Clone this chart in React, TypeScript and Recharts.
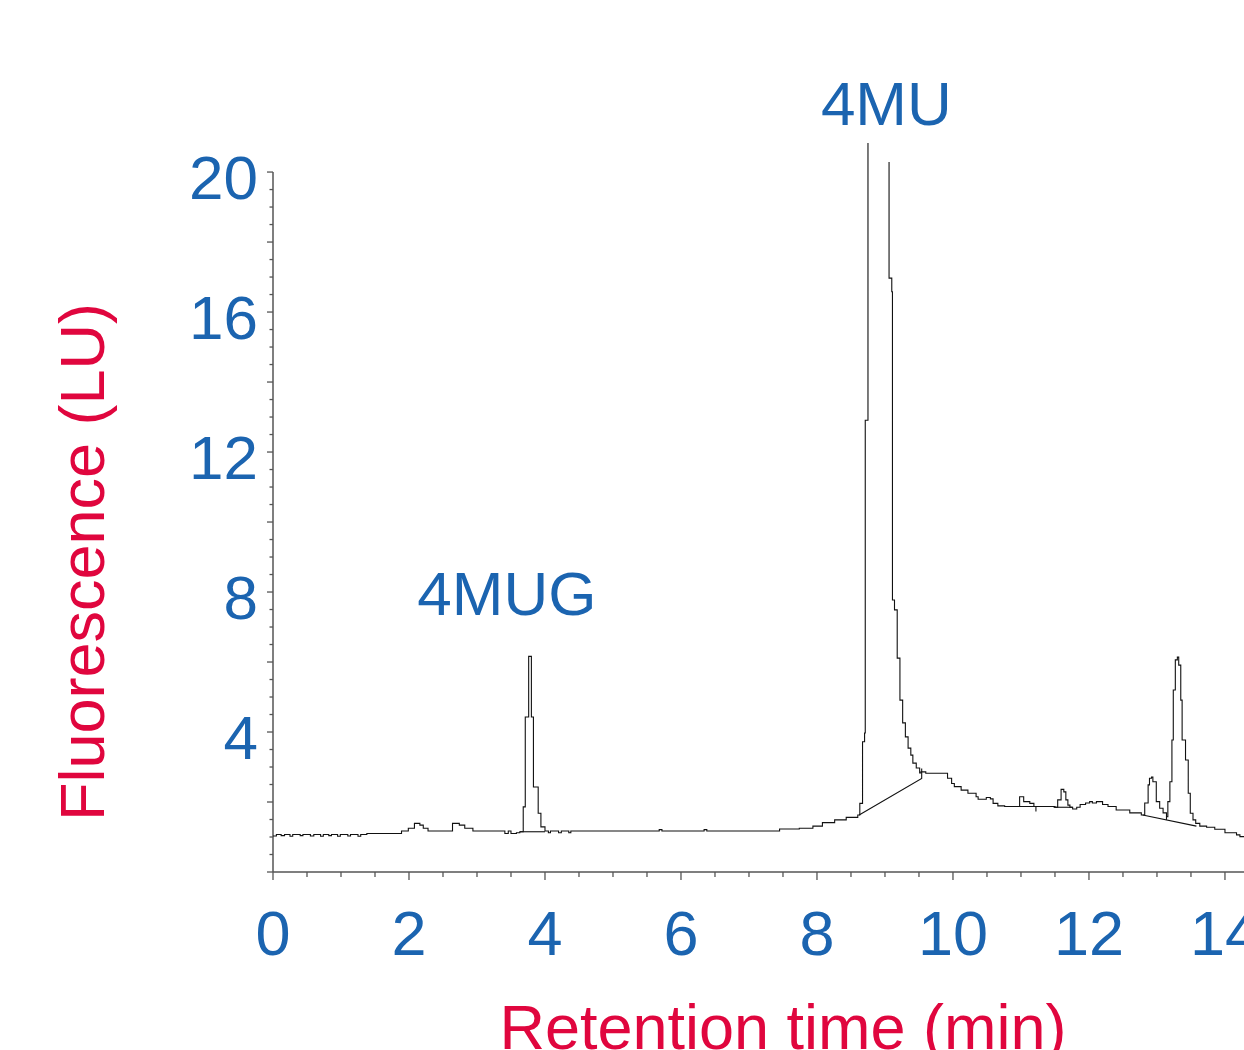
import { LineChart, Line, XAxis, YAxis, ReferenceLine, ReferenceDot } from 'recharts'

// chromatogram trace (time in min, signal in LU); null = off-scale gap
const traceTime = [
  0.0, 0.05, 0.12, 0.17, 0.25, 0.29, 0.4, 0.44, 0.55, 0.6, 0.7, 0.74, 0.82, 0.86, 0.95, 0.99,
  1.1, 1.14, 1.25, 1.29, 1.38, 1.89, 1.99, 2.08, 2.16, 2.21, 2.28, 2.64, 2.74, 2.82, 2.94,
  3.41, 3.46, 3.5, 3.58, 3.63, 3.68, 3.71, 3.76, 3.8, 3.83, 3.9, 3.94, 4.0,
  4.05, 4.08, 4.2, 4.24, 4.35, 4.38, 5.68, 5.72, 6.34, 6.38,
  7.45, 7.74, 7.94, 8.08, 8.26, 8.43, 8.6, 8.63, 8.67, 8.7, 8.71, 8.75, 8.9,
  9.06, 9.06, 9.1, 9.11, 9.14, 9.18, 9.22, 9.26, 9.3, 9.34, 9.38, 9.41, 9.46, 9.51, 9.53, 9.6,
  9.92, 9.98, 10.02, 10.12, 10.22, 10.34, 10.37, 10.49, 10.55, 10.59, 10.66, 10.76,
  10.98, 11.04, 11.13, 11.19, 11.5, 11.54, 11.59, 11.63, 11.66, 11.69, 11.72, 11.76, 11.82,
  11.87, 11.95, 12.01, 12.05, 12.11, 12.2, 12.28, 12.4, 12.6, 12.77,
  12.82, 12.87, 12.89, 12.92, 12.94, 12.99, 13.04, 13.09, 13.14,
  13.16, 13.19, 13.22, 13.24, 13.27, 13.3, 13.32, 13.35, 13.37, 13.42, 13.46, 13.49,
  13.53, 13.57, 13.63, 13.73, 13.85, 14.0, 14.17, 14.22, 14.28,
]
const traceSignal = [
  1.03, 1.07, 1.04, 1.07, 1.02, 1.07, 1.04, 1.07, 1.03, 1.07, 1.02, 1.07, 1.04, 1.07, 1.02, 1.07,
  1.03, 1.07, 1.02, 1.07, 1.1, 1.17, 1.25, 1.39, 1.34, 1.25, 1.17, 1.39, 1.34, 1.25, 1.17,
  1.1, 1.17, 1.1, 1.12, 1.15, 1.86, 4.43, 6.16, 4.43, 2.43, 1.68, 1.29, 1.17,
  1.12, 1.17, 1.12, 1.17, 1.12, 1.17, 1.21, 1.17, 1.21, 1.17,
  1.23, 1.25, 1.31, 1.41, 1.49, 1.56, 1.63, 1.96, 3.72, 3.97, 12.91, 20.83, null,
  20.29, 16.97, 16.58, 7.77, 7.49, 6.11, 4.91, 4.26, 3.86, 3.54, 3.34, 3.11, 2.97, 2.83, 2.86, 2.82,
  2.68, 2.53, 2.44, 2.34, 2.25, 2.15, 2.08, 2.13, 2.09, 1.96, 1.89, 1.87,
  2.15, 2.01, 1.96, 1.87, 1.85, 2.06, 2.36, 2.29, 2.06, 1.91, 1.85, 1.8, 1.85,
  1.93, 1.97, 2.01, 1.97, 2.01, 1.93, 1.87, 1.77, 1.69, 1.63,
  1.97, 2.49, 2.68, 2.71, 2.58, 2.01, 1.82, 1.69, 1.58,
  2.01, 2.58, 3.77, 5.2, 6.06, 6.14, 5.91, 4.91, 3.77, 3.2, 2.25, 1.68,
  1.49, 1.39, 1.31, 1.28, 1.22, 1.12, 1.06, 1.01, 1.01,
]

// integration baselines drawn under the peaks
const baseMugTime = [3.63, 4.0]
const baseMugSignal = [1.15, 1.15]
const baseMuTime = [8.62, 9.54, 9.54]
const baseMuSignal = [1.63, 2.67, 2.96]
const baseSmallATime = [10.95, 11.22, 11.22]
const baseSmallASignal = [1.87, 1.87, 1.73]
const baseSmallBTime = [11.48, 11.76]
const baseSmallBSignal = [1.85, 1.85]
const baseLateTime = [12.79, 13.58]
const baseLateSignal = [1.63, 1.31]
const baseValleyTime = [13.14, 13.14]
const baseValleySignal = [1.49, 1.58]

const xTicks: number[] = []
for (let i = 0; i <= 28; i++) xTicks.push(i / 2)
const yTicks: number[] = []
for (let i = 0; i <= 40; i++) yTicks.push(i / 2)

const BLUE = '#1b64b0'
const RED = '#e0063e'
const AXIS = '#555'
const FONT = '"Liberation Sans", Arial, sans-serif'

const toRows = (t: number[], v: (number | null)[]) => t.map((x, i) => ({ t: x, v: v[i] }))

const trace = toRows(traceTime, traceSignal)
const baselines = [
  toRows(baseMugTime, baseMugSignal),
  toRows(baseMuTime, baseMuSignal),
  toRows(baseSmallATime, baseSmallASignal),
  toRows(baseSmallBTime, baseSmallBSignal),
  toRows(baseLateTime, baseLateSignal),
  toRows(baseValleyTime, baseValleySignal),
]

const isMult = (v: number, m: number) => Math.abs(v / m - Math.round(v / m)) < 1e-6

const XTick = (props: any) => {
  const { x, y, payload } = props
  const v = payload.value
  const major = isMult(v, 2)
  return (
    <g>
      <line x1={x} x2={x} y1={y} y2={y + (major ? 8 : 5)} stroke={AXIS} strokeWidth={1.3} />
      {major && (
        <text x={x} y={y + 83} textAnchor="middle" fill={BLUE} fontSize={63} fontFamily={FONT}>
          {v}
        </text>
      )}
    </g>
  )
}

const YTick = (props: any) => {
  const { x, y, payload } = props
  const v = payload.value
  const major = isMult(v, 2)
  return (
    <g>
      <line x1={x - (major ? 6 : 3.5)} x2={x} y1={y} y2={y} stroke={AXIS} strokeWidth={1.3} />
      {v > 0 && isMult(v, 4) && (
        <text x={x - 15} y={y + 27} textAnchor="end" fill={BLUE} fontSize={62} fontFamily={FONT}>
          {v}
        </text>
      )}
    </g>
  )
}

const XTitle = () => (
  <text x={783} y={1049} textAnchor="middle" fill={RED} fontSize={63} fontFamily={FONT}>
    Retention time (min)
  </text>
)

const YTitle = () => (
  <text
    x={104}
    y={562}
    textAnchor="middle"
    transform="rotate(-90, 104, 562)"
    fill={RED}
    fontSize={63}
    fontFamily={FONT}
  >
    Fluorescence (LU)
  </text>
)

const peakLabel = (text: string) => (props: any) => {
  const vb = props.viewBox || {}
  const cx = (vb.x ?? 0) + (vb.width ?? 0) / 2
  const cy = (vb.y ?? 0) + (vb.height ?? 0) / 2
  return (
    <text x={cx} y={cy} textAnchor="middle" fill={BLUE} fontSize={62} fontFamily={FONT}>
      {text}
    </text>
  )
}

export default function App() {
  return (
    <div style={{ position: 'absolute', left: 0, top: 0, width: 1244, height: 1050, background: '#fff' }}>
      <LineChart width={1244} height={1050} margin={{ top: 143, right: 0, bottom: 0, left: 0 }}>
        <XAxis
          dataKey="t"
          type="number"
          domain={[0, 14.28]}
          allowDataOverflow
          ticks={xTicks}
          interval={0}
          tick={XTick}
          tickLine={false}
          tickSize={0}
          tickMargin={0}
          height={178}
          axisLine={{ stroke: AXIS, strokeWidth: 1.5 }}
          label={XTitle}
        />
        <YAxis
          type="number"
          domain={[0, 20.83]}
          allowDataOverflow
          ticks={yTicks}
          interval={0}
          tick={YTick}
          tickLine={false}
          tickSize={0}
          tickMargin={0}
          width={273}
          axisLine={false}
          label={YTitle}
        />
        <ReferenceLine
          segment={[{ x: 0, y: 0 }, { x: 0, y: 20 }]}
          stroke={AXIS}
          strokeWidth={1.5}
          ifOverflow="visible"
        />
        <Line
          data={trace}
          dataKey="v"
          type="stepAfter"
          stroke="#111"
          strokeWidth={1.1}
          dot={false}
          activeDot={false}
          isAnimationActive={false}
        />
        {baselines.map((rows, i) => (
          <Line
            key={i}
            data={rows}
            dataKey="v"
            type="linear"
            stroke="#111"
            strokeWidth={1.1}
            dot={false}
            activeDot={false}
            isAnimationActive={false}
          />
        ))}
        <ReferenceDot x={3.44} y={7.34} r={0} fill="none" stroke="none" ifOverflow="visible" label={peakLabel('4MUG')} />
        <ReferenceDot x={9.02} y={21.34} r={0} fill="none" stroke="none" ifOverflow="visible" label={peakLabel('4MU')} />
      </LineChart>
    </div>
  )
}
